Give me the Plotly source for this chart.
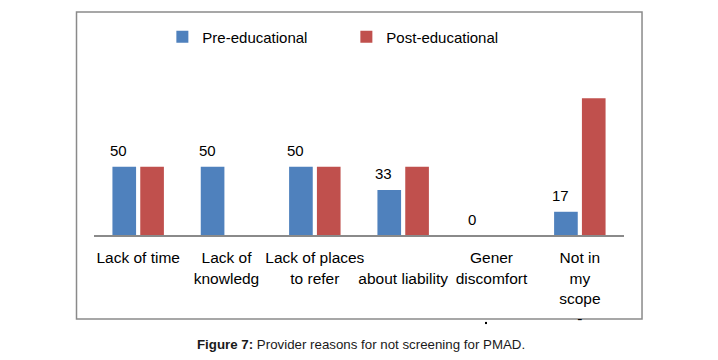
import plotly.graph_objects as go

categories = ["Lack of time", "Lack of knowledge", "Lack of places to refer",
              "Concerns about liability", "Gender discomfort", "Not in my scope"]
tick_labels = ["Lack of time", "Lack of<br>knowledg", "Lack of places<br>to refer",
               " <br>about liability", "Gener<br>discomfort", "Not in<br>my<br>scope<br>-"]
pre_values = [50, 50, 50, 33, 0, 17]
post_values = [50, 0, 50, 50, 0, 100]
pre_labels = ["50", "50", "50", "33", "0", "17"]

FONT = "Liberation Sans, Arial, sans-serif"
BLUE = "#4F81BD"
RED = "#C0504D"

fig = go.Figure()
fig.add_trace(go.Bar(name="Pre-educational", x=categories, y=pre_values,
                     marker=dict(color=BLUE, line=dict(width=0))))
fig.add_trace(go.Bar(name="Post-educational", x=categories, y=post_values,
                     marker=dict(color=RED, line=dict(width=0))))

for c, v, t in zip(categories, pre_values, pre_labels):
    fig.add_annotation(x=c, y=v, text=t, showarrow=False, xshift=-19.5, yshift=16,
                       yanchor="middle", font=dict(family=FONT, size=15, color="#000000"))

# caption
fig.add_annotation(xref="paper", yref="paper", x=0.504, y=-0.665,
                   text="<b>Figure 7:</b> Provider reasons for not screening for PMAD.",
                   showarrow=False, xanchor="center", yanchor="middle",
                   font=dict(family=FONT, size=13.3, color="#1a1a1a"))

# outer chart frame
fig.add_shape(type="rect", xref="paper", yref="paper",
              x0=-0.0330, x1=1.0340, y0=-0.512, y1=1.360,
              line=dict(color="#8a8a8a", width=1.5), layer="below")
# small stray mark
fig.add_shape(type="rect", xref="paper", yref="paper",
              x0=0.7377, x1=0.7415, y0=-0.543, y1=-0.530,
              line=dict(width=0), fillcolor="#000000")

# page body has an 8px default margin, so the figure is sized/offset to compensate
fig.update_layout(
    width=710, height=352,
    margin=dict(l=86, r=94, t=63, b=125),
    paper_bgcolor="white", plot_bgcolor="white",
    barmode="group", bargap=0.37, bargroupgap=0.15,
    font=dict(family=FONT, color="#000000"),
    showlegend=True,
    legend=dict(orientation="h", x=0.129, y=1.207, xanchor="left", yanchor="middle",
                entrywidth=139, entrywidthmode="pixels",
                font=dict(family=FONT, size=15, color="#000000"),
                bgcolor="rgba(0,0,0,0)", traceorder="normal"),
)
fig.update_xaxes(type="category", tickmode="array", tickvals=categories, ticktext=tick_labels,
                 showline=True, linecolor="#8a8a8a", linewidth=1.5, ticks="",
                 showgrid=False, tickfont=dict(family=FONT, size=15.5, color="#000000"),
                 tickangle=0, ticklabelstandoff=8)
fig.update_yaxes(range=[0, 120], visible=False, showgrid=False, zeroline=False)

fig.write_html("out.html")
